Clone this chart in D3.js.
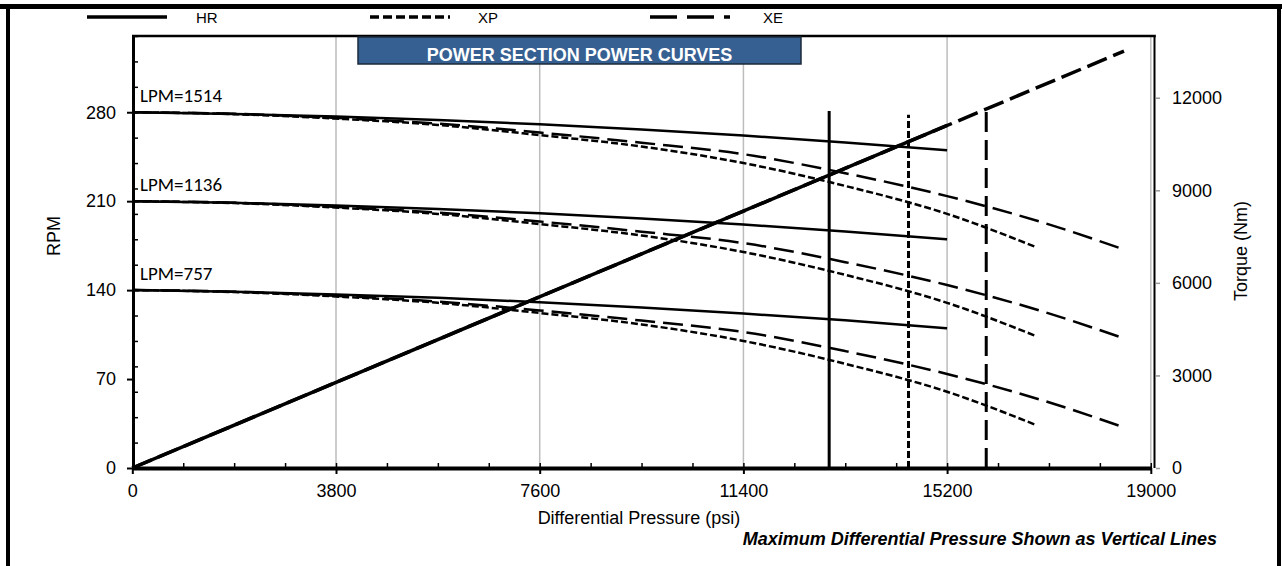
<!DOCTYPE html>
<html><head><meta charset="utf-8">
<script src="https://cdn.jsdelivr.net/npm/d3@7"></script>
<style>
body{margin:0;background:#fff}
svg{display:block}
text{font-family:"Liberation Sans",Arial,sans-serif;fill:#000}
</style>
</head><body>
<svg id="chart" width="1282" height="566"></svg>
<script>
// ---- data ----
const pressureTicks = [0, 3800, 7600, 11400, 15200, 19000];
const rpmTicks = [0, 70, 140, 210, 280];
const torqueTicks = [0, 3000, 6000, 9000, 12000];
const flowLabels = ["LPM=1514", "LPM=1136", "LPM=757"];
const flowStartRpm = [280, 210, 140];

const hrPressure = [0, 1900, 3800, 5700, 7600, 9500, 11400, 13300, 15200];
const hr1514 = [280, 278.7, 276.6, 273.9, 270.5, 266.4, 261.6, 256.2, 250];
const hr1136 = [210, 208.7, 206.6, 203.9, 200.5, 196.4, 191.6, 186.2, 180];
const hr757  = [140, 138.7, 136.6, 133.9, 130.5, 126.4, 121.6, 116.2, 110];

const xpPressure = [0, 1900, 3800, 5700, 7600, 9500, 11400, 13300, 15200, 16850];
const xp1514 = [280, 278.5, 275, 270, 262, 253, 240, 222, 200, 174];
const xp1136 = [210, 208.5, 205, 200, 192, 183, 170, 152, 130, 104];
const xp757  = [140, 138.5, 135, 130, 122, 113, 100, 82, 60, 34];

const xePressure = [0, 1900, 3800, 5700, 7600, 9500, 11400, 13300, 15200, 17000, 18500];
const xe1514 = [280, 278.8, 275.5, 271, 264, 256, 247, 232, 214, 193, 172];
const xe1136 = [210, 208.8, 205.5, 201, 194, 186, 177, 162, 144, 123, 102];
const xe757  = [140, 138.8, 135.5, 131, 124, 116, 107, 92, 74, 53, 32];

const hrTorquePressure = [0, 15200];
const hrTorque = [0, 11100];
const xeTorquePressure = [0, 18500];
const xeTorque = [0, 13510];

const motorNames = ["HR", "XP", "XE"];
const maxPressure = [13000, 14480, 15930];
const maxLineTopRpm = [281, 278, 282];

// ---- setup ----
const svg = d3.select("#chart");
const x = d3.scaleLinear().domain([0, 19000]).range([132.3, 1150.8]);
const yL = d3.scaleLinear().domain([0, 340]).range([468, 36]);
const yR = d3.scaleLinear().domain([0, 14000]).range([468, 36]);
const fmt = d3.format("d");

const styles = {
  HR: {dash: null},
  XP: {dash: "7,3"},
  XE: {dash: "20,8"}
};

// outer border
svg.append("rect").attr("x", 0).attr("y", 4).attr("width", 1282).attr("height", 5).attr("fill", "#000");
svg.append("rect").attr("x", 6).attr("y", 4).attr("width", 4).attr("height", 562).attr("fill", "#000");
svg.append("rect").attr("x", 1277).attr("y", 4).attr("width", 4).attr("height", 562).attr("fill", "#000");

// gridlines
svg.append("g").selectAll("line").data(pressureTicks.slice(1)).join("line")
  .attr("x1", d => x(d)).attr("x2", d => x(d))
  .attr("y1", yL.range()[1]).attr("y2", yL.range()[0])
  .attr("stroke", "#bdbdbd").attr("stroke-width", 1.5);

// plot frame top + right
svg.append("line").attr("x1", 132).attr("x2", 1155.8).attr("y1", 36).attr("y2", 36)
  .attr("stroke", "#000").attr("stroke-width", 2.5);
svg.append("line").attr("x1", 1154.5).attr("x2", 1154.5).attr("y1", 36).attr("y2", 468)
  .attr("stroke", "#000").attr("stroke-width", 2);

// legend
const legendX = [87, 370, 650];
const legendDash = [null, "9,4", "27,10"];
const legendTextX = [196, 478, 763];
motorNames.forEach((m, i) => {
  svg.append("line").attr("x1", legendX[i]).attr("x2", legendX[i] + 80)
    .attr("y1", 17).attr("y2", 17).attr("stroke", "#000").attr("stroke-width", 3.5)
    .attr("stroke-dasharray", legendDash[i]);
  svg.append("text").attr("x", legendTextX[i]).attr("y", 23)
    .style("font-size", "15px").text(m);
});

// axes
const gx = svg.append("g").attr("transform", "translate(0,468)")
  .call(d3.axisBottom(x).tickValues(pressureTicks).tickFormat(fmt).tickSize(6).tickSizeOuter(0).tickPadding(10));
gx.select(".domain").attr("stroke", "#000").attr("stroke-width", 4);
gx.selectAll(".tick line").attr("stroke", "#000").attr("stroke-width", 2);
gx.selectAll("text").style("font-size", "18px").style("font-family", "Liberation Sans, Arial, sans-serif");

const gxm = svg.append("g").attr("transform", "translate(0,468)")
  .call(d3.axisTop(x).tickValues(d3.range(0, 19001, 950)).tickSize(5).tickSizeOuter(0).tickFormat(""));
gxm.select(".domain").remove();
gxm.selectAll(".tick line").attr("stroke", "#000").attr("stroke-width", 1.5);

const gy = svg.append("g").attr("transform", "translate(133,0)")
  .call(d3.axisLeft(yL).tickValues(rpmTicks).tickFormat(fmt).tickSize(6).tickSizeOuter(0).tickPadding(11));
gy.select(".domain").attr("stroke", "#000").attr("stroke-width", 3);
gy.selectAll(".tick line").attr("stroke", "#000").attr("stroke-width", 2);
gy.selectAll("text").style("font-size", "18px").style("font-family", "Liberation Sans, Arial, sans-serif");

const gym = svg.append("g").attr("transform", "translate(133,0)")
  .call(d3.axisRight(yL).tickValues(d3.range(20, 341, 20)).tickSize(5).tickSizeOuter(0).tickFormat(""));
gym.select(".domain").remove();
gym.selectAll(".tick line").attr("stroke", "#000").attr("stroke-width", 1.5);

const gr = svg.append("g").attr("transform", "translate(1156,0)")
  .call(d3.axisRight(yR).tickValues(torqueTicks).tickFormat(fmt).tickSize(4).tickSizeOuter(0).tickPadding(12));
gr.select(".domain").remove();
gr.selectAll(".tick line").attr("stroke", "#999").attr("stroke-width", 1.5);
gr.selectAll("text").style("font-size", "18px").style("font-family", "Liberation Sans, Arial, sans-serif");

// axis titles
svg.append("text").attr("x", 639).attr("y", 524).attr("text-anchor", "middle")
  .style("font-size", "18px").text("Differential Pressure (psi)");
svg.append("text").attr("transform", "translate(60,236) rotate(-90)").attr("text-anchor", "middle")
  .style("font-size", "18px").text("RPM");
svg.append("text").attr("transform", "translate(1247,251) rotate(-90)").attr("text-anchor", "middle")
  .style("font-size", "18px").text("Torque (Nm)");
svg.append("text").attr("x", 1217).attr("y", 545).attr("text-anchor", "end")
  .style("font-size", "18px").style("font-weight", "bold").style("font-style", "italic")
  .text("Maximum Differential Pressure Shown as Vertical Lines");

// curves
const lineL = d3.line().x(d => x(d[0])).y(d => yL(d[1])).curve(d3.curveMonotoneX);
const lineR = d3.line().x(d => x(d[0])).y(d => yR(d[1]));
const zip = (a, b) => a.map((v, i) => [v, b[i]]);

const curves = [
  {p: xePressure, v: xe1514, m: "XE"}, {p: xePressure, v: xe1136, m: "XE"}, {p: xePressure, v: xe757, m: "XE"},
  {p: xpPressure, v: xp1514, m: "XP"}, {p: xpPressure, v: xp1136, m: "XP"}, {p: xpPressure, v: xp757, m: "XP"},
  {p: hrPressure, v: hr1514, m: "HR"}, {p: hrPressure, v: hr1136, m: "HR"}, {p: hrPressure, v: hr757, m: "HR"}
];
svg.append("g").selectAll("path").data(curves).join("path")
  .attr("d", d => lineL(zip(d.p, d.v)))
  .attr("fill", "none").attr("stroke", "#000").attr("stroke-width", 2.5)
  .attr("stroke-dasharray", d => styles[d.m].dash);

// torque lines
svg.append("path").attr("d", lineR(zip(xeTorquePressure, xeTorque)))
  .attr("fill", "none").attr("stroke", "#000").attr("stroke-width", 3.5).attr("stroke-dasharray", "21,7");
svg.append("path").attr("d", lineR(zip(hrTorquePressure, hrTorque)))
  .attr("fill", "none").attr("stroke", "#000").attr("stroke-width", 3.5);

// max pressure vertical lines
motorNames.forEach((m, i) => {
  svg.append("line").attr("x1", x(maxPressure[i])).attr("x2", x(maxPressure[i]))
    .attr("y1", yL(0)).attr("y2", yL(maxLineTopRpm[i]))
    .attr("stroke", "#000").attr("stroke-width", 3).attr("stroke-dasharray", styles[m].dash);
});

// flow labels
svg.append("g").selectAll("text").data(flowLabels).join("text")
  .attr("x", 140).attr("y", (d, i) => yL(flowStartRpm[i]) - 10)
  .style("font-family", "Carlito, Lato, 'Open Sans', sans-serif").style("font-size", "19px")
  .text(d => d);

// title box
svg.append("rect").attr("x", 358).attr("y", 37).attr("width", 443).attr("height", 27)
  .attr("fill", "#376092").attr("stroke", "#1b2a3a").attr("stroke-width", 1.5);
svg.append("text").attr("x", 579.5).attr("y", 61).attr("text-anchor", "middle")
  .style("font-size", "18px").style("font-weight", "bold").style("fill", "#fff")
  .text("POWER SECTION POWER CURVES");
</script>
</body></html>
